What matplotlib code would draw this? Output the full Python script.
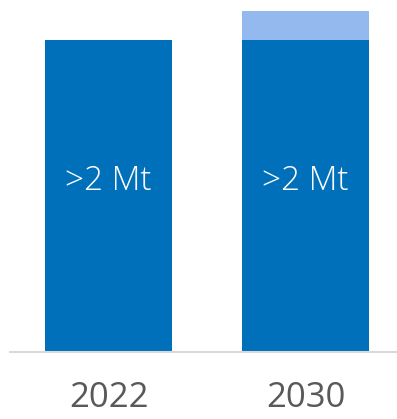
import matplotlib
matplotlib.use("Agg")
import matplotlib.pyplot as plt

years = ["2022", "2030"]
base = [2.0, 2.0]
extra = [0.0, 0.186]
labels = [">2 Mt", ">2 Mt"]

plt.rcParams['font.family'] = ['Open Sans', 'DejaVu Sans']

fig = plt.figure(figsize=(3.97, 4.19), dpi=100)
ax = fig.add_axes([10/397, 1 - 352/419, 387/397, 352/419])
x = list(range(len(years)))
w = 0.645
ax.bar(x, base, width=w, color="#0070bb", edgecolor="none")
ax.bar(x, extra, width=w, bottom=base, color="#93b9ef", edgecolor="none")
for xi, b, lab in zip(x, base, labels):
    ax.text(xi, b * 0.548, lab, ha="center", va="center", color="white",
            fontsize=24, fontweight="light")
ax.set_xlim(-0.5, 1.464)
ax.set_ylim(0, 2 * 352 / 312)
ax.set_xticks(x)
ax.set_xticklabels(years, fontsize=25, color="#595959")
ax.tick_params(axis="x", length=0, pad=21)
ax.set_yticks([])
for s in ["top", "right", "left"]:
    ax.spines[s].set_visible(False)
ax.spines["bottom"].set_color("#d9d9d9")
ax.spines["bottom"].set_linewidth(1.5)
fig.savefig("out.png", dpi=100)
